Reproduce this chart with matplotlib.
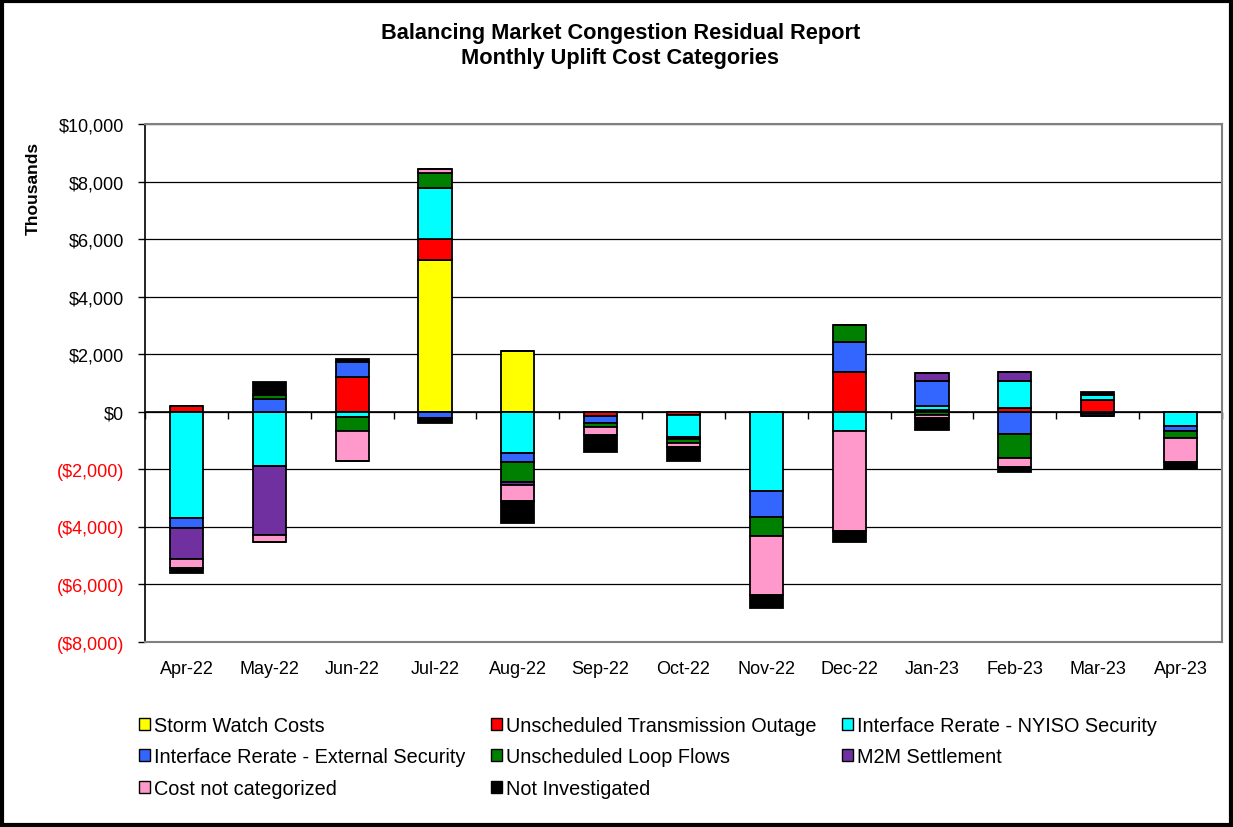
import matplotlib

matplotlib.use("Agg")
import matplotlib.pyplot as plt
import numpy as np
from matplotlib.patches import Patch, Rectangle
from matplotlib.ticker import FuncFormatter

plt.rcParams["font.family"] = ["Liberation Sans", "DejaVu Sans"]

months = ["Apr-22", "May-22", "Jun-22", "Jul-22", "Aug-22", "Sep-22", "Oct-22",
          "Nov-22", "Dec-22", "Jan-23", "Feb-23", "Mar-23", "Apr-23"]

# monthly uplift by category, $ thousands
storm_watch = [0, 0, 0, 5260, 2110, 0, 0, 0, 0, 0, 0, 0, 0]
transmission_outage = [215, 0, 1210, 730, 0, -150, -100, 0, 1390, 80, 120, 415, 0]
nyiso_security = [-3700, -1870, -180, 1775, -1440, 0, -765, -2740, -670, 125, 960, 165, -500]
external_security = [-350, 460, 520, -230, -310, -230, -70, -915, 1045, 865, -760, 0, -175]
loop_flows = [0, 140, -490, 520, -690, -160, -140, -650, 580, -120, -835, 0, -230]
m2m_settlement = [-1080, -2400, 0, 0, -120, 0, 0, 0, 0, 290, 310, -80, 0]
not_categorized = [-310, -270, -1040, 160, -540, -250, -140, -2075, -3480, -100, -325, -80, -835]
not_investigated = [-150, 440, 100, -170, -750, -600, -500, -440, -380, -420, -160, 115, -235]

series = [
    ("Storm Watch Costs", storm_watch, "#FFFF00"),
    ("Unscheduled Transmission Outage", transmission_outage, "#FF0000"),
    ("Interface Rerate - NYISO Security", nyiso_security, "#00FFFF"),
    ("Interface Rerate - External Security", external_security, "#3366FF"),
    ("Unscheduled Loop Flows", loop_flows, "#008000"),
    ("M2M Settlement", m2m_settlement, "#7030A0"),
    ("Cost not categorized", not_categorized, "#FF99CC"),
    ("Not Investigated", not_investigated, "#000000"),
]

fig = plt.figure(figsize=(12.33, 8.28), dpi=100)
ax = fig.add_axes([0.1176, 0.2234, 0.8734, 0.6256])

x = np.arange(len(months))
pos_base = np.zeros(len(months))
neg_base = np.zeros(len(months))
for label, values, color in series:
    values = np.array(values, dtype=float)
    pos = np.where(values > 0, values, 0)
    neg = np.where(values < 0, values, 0)
    ax.bar(x, pos, 0.4, bottom=pos_base, color=color, edgecolor="black", linewidth=1.3, zorder=3)
    ax.bar(x, neg, 0.4, bottom=neg_base, color=color, edgecolor="black", linewidth=1.3, zorder=3)
    pos_base += pos
    neg_base += neg

ax.set_xlim(-0.5, len(months) - 0.5)
ax.set_ylim(-8000, 10000)
ax.set_yticks(np.arange(-8000, 10001, 2000))


def money(v, _pos):
    if v < 0:
        return f"(${-v:,.0f})"
    return f"${v:,.0f}"


ax.yaxis.set_major_formatter(FuncFormatter(money))
ax.grid(axis="y", color="black", linewidth=0.9, zorder=0)
ax.tick_params(axis="y", direction="out", length=5, width=1, pad=10, labelsize=13)
for tick_label, v in zip(ax.get_yticklabels(), ax.get_yticks()):
    tick_label.set_color("red" if v < 0 else "black")

ax.set_xticks(x)
ax.set_xticklabels(months)
ax.tick_params(axis="x", length=0, pad=13, labelsize=13)

for side in ("top", "right", "bottom"):
    ax.spines[side].set_color("#808080")
    ax.spines[side].set_linewidth(1.5)
ax.spines["left"].set_color("black")
ax.spines["left"].set_linewidth(1.2)

# category axis crossing at zero, with boundary tick marks
zero_axis = ax.secondary_xaxis(0, transform=ax.transData)
zero_axis.set_xticks(np.arange(-0.5, len(months) + 0.5, 1.0))
zero_axis.set_xticklabels([])
zero_axis.tick_params(direction="out", length=5, width=1, color="black")
zero_axis.spines["bottom"].set_color("black")
zero_axis.spines["bottom"].set_linewidth(1.2)

fig.text(0.503, 0.959, "Balancing Market Congestion Residual Report",
         ha="center", va="center", fontsize=15.7, fontweight="bold")
fig.text(0.503, 0.929, "Monthly Uplift Cost Categories",
         ha="center", va="center", fontsize=15.7, fontweight="bold")
fig.text(0.027, 0.772, "Thousands", rotation=90, ha="center", va="center",
         fontsize=12.5, fontweight="bold")

handles = [Patch(facecolor=c, edgecolor="black", linewidth=1.0, label=l) for l, _, c in series]
order = [0, 3, 6, 1, 4, 7, 2, 5]
fig.legend([handles[i] for i in order], [handles[i].get_label() for i in order],
           loc="upper left", bbox_to_anchor=(0.1127, 0.134), ncol=3, frameon=False,
           fontsize=14.3, handlelength=0.55, handleheight=0.55, handletextpad=0.2,
           columnspacing=1.3, labelspacing=0.62, borderpad=0, borderaxespad=0)

fig.patches.append(Rectangle((0.002, 0.002), 0.996, 0.996, transform=fig.transFigure,
                             fill=False, edgecolor="black", linewidth=3))

fig.savefig("out.png", dpi=100, facecolor="white")
